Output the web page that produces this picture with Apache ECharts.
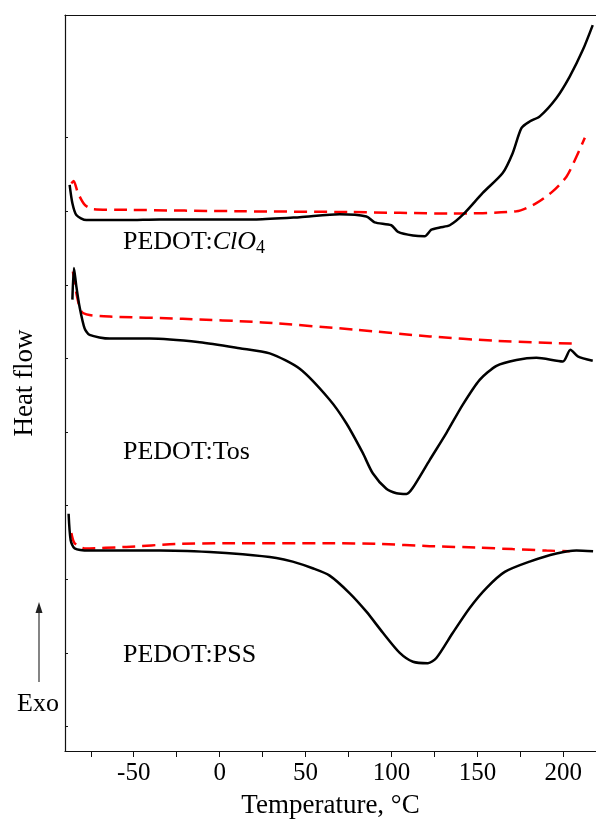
<!DOCTYPE html>
<html>
<head>
<meta charset="utf-8">
<script src="https://cdn.jsdelivr.net/npm/echarts@6/dist/echarts.min.js"></script>
<style>
  html, body { margin: 0; padding: 0; background: #fff; }
  #chart { width: 596px; height: 825px; }
</style>
</head>
<body>
<div id="chart"></div>
<script>
// temperature (°C), heat flow (arb. units, one y tick = 1)
const clo4Heat = [
  [-87.3, 7.36], [-85.7, 7.11], [-83.4, 6.95], [-77.6, 6.88], [-54.3, 6.88], [-34.9, 6.89],
  [21.4, 6.89], [46.6, 6.92], [69.8, 6.96], [85.4, 6.93], [90.2, 6.85], [99.9, 6.81],
  [103.8, 6.72], [112.5, 6.67], [119.3, 6.66], [123.2, 6.75], [128.1, 6.78], [133.9, 6.81],
  [141.4, 6.95], [153.1, 7.25], [164.7, 7.52], [170.5, 7.79], [175.6, 8.13], [180.4, 8.22],
  [186.3, 8.29], [196.0, 8.54], [203.7, 8.83], [211.3, 9.19], [217.1, 9.53]
]
const clo4Cool = [
  [-86.3, 7.38], [-85.0, 7.41], [-82.5, 7.25], [-78.6, 7.09], [-73.7, 7.03], [-54.3, 7.02],
  [13.6, 7.00], [75.7, 6.99], [133.9, 6.97], [172.7, 7.00], [184.3, 7.11], [193.8, 7.27],
  [201.8, 7.47], [207.6, 7.74], [212.5, 8.00]
]
const tosHeat = [
  [-85.7, 5.80], [-84.8, 6.23], [-83.4, 5.98], [-81.5, 5.70], [-78.6, 5.41], [-75.7, 5.32],
  [-64.0, 5.27], [-40.7, 5.27], [-11.6, 5.22], [11.6, 5.14], [29.1, 5.07], [46.6, 4.86],
  [64.0, 4.44], [73.7, 4.12], [83.2, 3.72], [89.1, 3.44], [97.0, 3.23], [102.9, 3.17],
  [108.7, 3.16], [112.3, 3.24], [122.2, 3.62], [132.0, 3.99], [141.4, 4.37], [151.3, 4.71],
  [161.1, 4.90], [172.7, 4.98], [184.3, 5.01], [199.7, 4.96], [204.1, 5.12], [208.4, 5.03],
  [217.1, 4.97]
]
const tosCool = [
  [-85.4, 6.18], [-83.4, 5.89], [-80.5, 5.64], [-75.7, 5.59], [-64.0, 5.57], [-21.5, 5.54],
  [25.0, 5.49], [79.6, 5.39], [122.2, 5.30], [161.1, 5.24], [208.4, 5.20]
]
const pssHeat = [
  [-87.9, 2.89], [-86.7, 2.53], [-84.4, 2.42], [-75.7, 2.39], [-34.9, 2.39], [-5.8, 2.37],
  [13.4, 2.34], [33.0, 2.29], [42.5, 2.24], [54.1, 2.15], [64.0, 2.05], [75.7, 1.81],
  [85.4, 1.56], [95.1, 1.27], [104.8, 1.00], [112.5, 0.88], [121.2, 0.86], [126.1, 0.93],
  [135.6, 1.27], [145.5, 1.61], [155.2, 1.88], [165.9, 2.10], [180.4, 2.24], [196.0, 2.35],
  [207.6, 2.39], [217.3, 2.38]
]
const pssCool = [
  [-86.3, 2.63], [-84.4, 2.49], [-78.6, 2.42], [-54.3, 2.44], [-25.2, 2.48], [3.9, 2.49],
  [64.0, 2.49], [93.1, 2.48], [122.2, 2.45], [151.3, 2.43], [170.5, 2.41], [190.2, 2.39],
  [203.7, 2.38]
]
const xTicks = [-75, -50, -25, 0, 25, 50, 75, 100, 125, 150, 175, 200]
const xLabels = [-50, 0, 50, 100, 150, 200]
const yTicks = [0, 1, 2, 3, 4, 5, 6, 7, 8]

const serif = 'Liberation Serif'
const chart = echarts.init(document.getElementById('chart'))

const solid = (data) => ({
  type: 'line', data: data, showSymbol: false, smooth: 0.25,
  lineStyle: { color: '#000', width: 2.5 }, z: 3
})
const dashed = (data) => ({
  type: 'line', data: data, showSymbol: false, smooth: 0.25,
  lineStyle: { color: '#ff0000', width: 2.5, type: [13, 7] }, z: 2
})

const option = {
  animation: false,
  grid: { left: 65, right: 0, top: 15, bottom: 74, outerBoundsMode: 'none', containLabel: false },
  xAxis: [
    {
      type: 'value', min: -90, max: 219,
      name: 'Temperature, °C', nameLocation: 'middle', nameGap: 41,
      nameTextStyle: { fontFamily: serif, fontSize: 27, color: '#000' },
      axisLine: { onZero: false, lineStyle: { color: '#111', width: 1.2 } },
      axisTick: { customValues: xTicks, length: 6, lineStyle: { color: '#111' } },
      axisLabel: { customValues: xLabels, fontFamily: serif, fontSize: 25, color: '#000', margin: 10 },
      splitLine: { show: false }
    },
    {
      type: 'value', position: 'top', min: -90, max: 219,
      axisLine: { show: true, onZero: false, lineStyle: { color: '#111', width: 1.2 } },
      axisTick: { show: false }, axisLabel: { show: false }, splitLine: { show: false }
    }
  ],
  yAxis: {
    type: 'value', min: -0.333, max: 9.667,
    name: 'Heat flow', nameLocation: 'middle', nameGap: 27,
    nameTextStyle: { fontFamily: serif, fontSize: 27, color: '#000' },
    axisLine: { show: true, onZero: false, lineStyle: { color: '#111', width: 1.2 } },
    axisTick: { customValues: yTicks, inside: true, length: 3, lineStyle: { color: '#111' } },
    axisLabel: { show: false },
    splitLine: { show: false }
  },
  series: [
    dashed(clo4Cool), solid(clo4Heat),
    dashed(tosCool), solid(tosHeat),
    dashed(pssCool), solid(pssHeat)
  ],
  graphic: [
    {
      type: 'text', left: 123, top: 229,
      style: {
        text: '{n|PEDOT:}{i|ClO}{s|4}',
        rich: {
          n: { fontFamily: serif, fontSize: 26, lineHeight: 30, verticalAlign: 'middle', fill: '#000' },
          i: { fontFamily: serif, fontSize: 26, fontStyle: 'italic', lineHeight: 30, verticalAlign: 'middle', fill: '#000' },
          s: { fontFamily: serif, fontSize: 18, lineHeight: 30, verticalAlign: 'bottom', fill: '#000' }
        }
      }
    },
    { type: 'text', left: 123, top: 439, style: { text: 'PEDOT:Tos', font: '26px "Liberation Serif"', fill: '#000' } },
    { type: 'text', left: 123, top: 642, style: { text: 'PEDOT:PSS', font: '26px "Liberation Serif"', fill: '#000' } },
    { type: 'text', left: 17, top: 691, style: { text: 'Exo', font: '26px "Liberation Serif"', fill: '#000' } },
    { type: 'line', shape: { x1: 39, y1: 682, x2: 39, y2: 610 }, style: { stroke: '#333', lineWidth: 1.2 } },
    { type: 'polygon', shape: { points: [[39, 602], [35.5, 613], [42.5, 613]] }, style: { fill: '#222' } }
  ]
}
chart.setOption(option)
</script>
</body>
</html>
